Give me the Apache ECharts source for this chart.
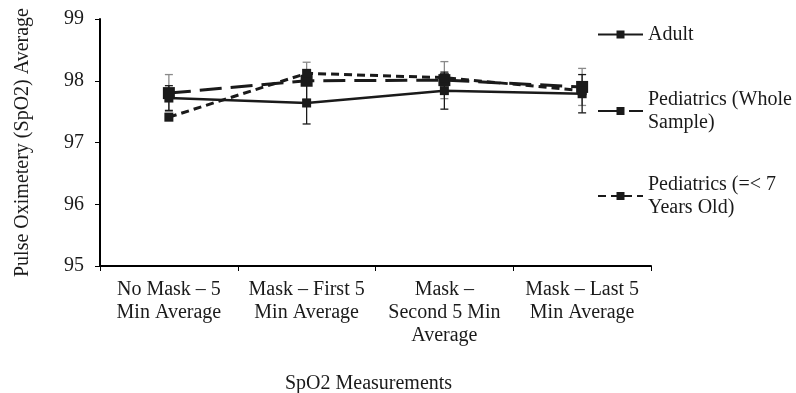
<!DOCTYPE html>
<html>
<head>
<meta charset="utf-8">
<script src="https://cdn.jsdelivr.net/npm/echarts@6/dist/echarts.min.js"></script>
<style>
  html, body { margin: 0; padding: 0; background: #fff; }
  #chart { width: 796px; height: 393px; }
</style>
</head>
<body>
<div id="chart"></div>
<script>
var categories = ['No Mask – 5\nMin Average', 'Mask – First 5\nMin Average', 'Mask –\nSecond 5 Min\nAverage', 'Mask – Last 5\nMin Average']
var adult = [97.72, 97.64, 97.84, 97.79]
var adultErr = [0.2, 0.34, 0.3, 0.31]
var pedWhole = [97.8, 98.0, 98.01, 97.9]
var pedWholeErr = [0.3, 0.3, 0.3, 0.3]
var pedYoung = [97.41, 98.12, 98.05, 97.84]
var yTicks = [95, 96, 97, 98, 99]

var font = 'Liberation Serif'
var textColor = '#1a1a1a'

function errData(vals, errs) {
  return vals.map(function (v, i) { return [i, v - errs[i], v + errs[i]] })
}

// error bars with small caps
function errSeries(vals, errs, color) {
  return {
    type: 'custom',
    z: 1,
    silent: true,
    renderItem: function (params, api) {
      var lo = api.coord([api.value(0), api.value(1)])
      var hi = api.coord([api.value(0), api.value(2)])
      var w = 4
      var st = { stroke: color, lineWidth: 1.3 }
      return {
        type: 'group',
        children: [
          { type: 'line', shape: { x1: hi[0], y1: hi[1], x2: lo[0], y2: lo[1] }, style: st },
          { type: 'line', shape: { x1: hi[0] - w, y1: hi[1], x2: hi[0] + w, y2: hi[1] }, style: st },
          { type: 'line', shape: { x1: lo[0] - w, y1: lo[1], x2: lo[0] + w, y2: lo[1] }, style: st }
        ]
      }
    },
    data: errData(vals, errs)
  }
}

function legendAt(name, top) {
  return {
    data: [name],
    left: 597,
    top: top,
    padding: 0,
    itemWidth: 45,
    itemHeight: 10,
    textStyle: { fontFamily: font, fontSize: 20, color: textColor, lineHeight: 23 }
  }
}

var chart = echarts.init(document.getElementById('chart'))
var option = {
  animation: false,
  backgroundColor: '#fff',
  grid: { left: 100, right: 145, top: 19, bottom: 127, outerBoundsMode: 'none' },
  legend: [
    legendAt('Adult', 23),
    legendAt('Pediatrics (Whole\nSample)', 88),
    legendAt('Pediatrics (=< 7\nYears Old)', 173)
  ],
  xAxis: {
    type: 'category',
    data: categories,
    boundaryGap: true,
    name: 'SpO2 Measurements',
    nameLocation: 'middle',
    nameGap: 108,
    nameTextStyle: { fontFamily: font, fontSize: 20, color: textColor, padding: [0, 14, 0, 0] },
    axisLine: { lineStyle: { color: '#000', width: 2 } },
    axisTick: { show: true, length: 5, lineStyle: { color: '#000', width: 1 } },
    axisLabel: { fontFamily: font, fontSize: 20, color: textColor, lineHeight: 23, margin: 12, interval: 0 }
  },
  yAxis: {
    type: 'value',
    min: yTicks[0],
    max: yTicks[yTicks.length - 1],
    interval: 1,
    name: 'Pulse Oximetery (SpO2) Average',
    nameLocation: 'middle',
    nameGap: 67,
    nameTextStyle: { fontFamily: font, fontSize: 20, color: textColor },
    axisLine: { show: true, lineStyle: { color: '#000', width: 2 } },
    axisTick: { show: true, length: 5, lineStyle: { color: '#000', width: 1 } },
    axisLabel: { fontFamily: font, fontSize: 20, color: textColor, margin: 16 },
    splitLine: { show: false }
  },
  series: [
    errSeries(pedWhole, pedWholeErr, '#8a8a8a'),
    errSeries(adult, adultErr, '#1a1a1a'),
    {
      name: 'Adult',
      type: 'line',
      data: adult,
      symbol: 'rect',
      symbolSize: 9,
      z: 3,
      itemStyle: { color: '#1a1a1a' },
      lineStyle: { color: '#1a1a1a', width: 2.5, type: 'solid' }
    },
    {
      name: 'Pediatrics (Whole\nSample)',
      type: 'line',
      data: pedWhole,
      symbol: 'rect',
      symbolSize: 12,
      z: 3,
      itemStyle: { color: '#1a1a1a' },
      lineStyle: { color: '#1a1a1a', width: 3, type: [22, 9] }
    },
    {
      name: 'Pediatrics (=< 7\nYears Old)',
      type: 'line',
      data: pedYoung,
      symbol: 'rect',
      symbolSize: 9,
      z: 3,
      itemStyle: { color: '#1a1a1a' },
      lineStyle: { color: '#1a1a1a', width: 3, type: [8, 5] }
    }
  ]
}
chart.setOption(option)
</script>
</body>
</html>
